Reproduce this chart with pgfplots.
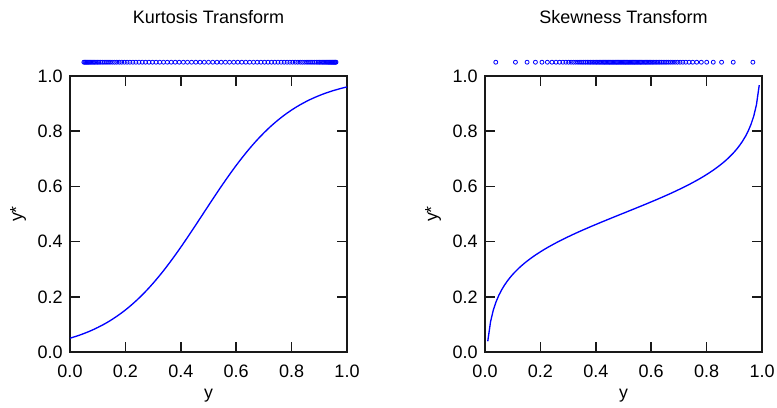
\documentclass[border=0pt]{standalone}
\usepackage{fontspec}
\setmainfont{Liberation Sans}
\usepackage{pgfplots}
\usepackage{pgfplotstable}
\pgfplotsset{compat=1.18}

% kurtosis transform, y -> y*
\pgfplotstableread{
x y
0.00 0.0501
0.01 0.0531
0.02 0.0563
0.03 0.0596
0.04 0.0631
0.05 0.0669
0.06 0.0708
0.07 0.0749
0.08 0.0793
0.09 0.0839
0.10 0.0887
0.11 0.0938
0.12 0.0991
0.13 0.1047
0.14 0.1106
0.15 0.1168
0.16 0.1233
0.17 0.1301
0.18 0.1372
0.19 0.1446
0.20 0.1523
0.21 0.1604
0.22 0.1689
0.23 0.1777
0.24 0.1868
0.25 0.1963
0.26 0.2061
0.27 0.2163
0.28 0.2269
0.29 0.2378
0.30 0.2491
0.31 0.2608
0.32 0.2728
0.33 0.2851
0.34 0.2977
0.35 0.3107
0.36 0.3240
0.37 0.3376
0.38 0.3514
0.39 0.3655
0.40 0.3798
0.41 0.3943
0.42 0.4092
0.43 0.4241
0.44 0.4390
0.45 0.4541
0.46 0.4695
0.47 0.4847
0.48 0.5000
0.49 0.5153
0.50 0.5306
0.51 0.5459
0.52 0.5610
0.53 0.5760
0.54 0.5910
0.55 0.6057
0.56 0.6202
0.57 0.6345
0.58 0.6486
0.59 0.6625
0.60 0.6761
0.61 0.6893
0.62 0.7023
0.63 0.7149
0.64 0.7273
0.65 0.7393
0.66 0.7509
0.67 0.7622
0.68 0.7732
0.69 0.7837
0.70 0.7939
0.71 0.8038
0.72 0.8133
0.73 0.8224
0.74 0.8311
0.75 0.8396
0.76 0.8477
0.77 0.8554
0.78 0.8628
0.79 0.8699
0.80 0.8767
0.81 0.8832
0.82 0.8894
0.83 0.8953
0.84 0.9009
0.85 0.9062
0.86 0.9113
0.87 0.9162
0.88 0.9207
0.89 0.9251
0.90 0.9292
0.91 0.9332
0.92 0.9369
0.93 0.9404
0.94 0.9438
0.95 0.9470
0.96 0.9499
0.97 0.9527
0.98 0.9555
0.99 0.9580
1.00 0.9604
}\kurt

% skewness transform, y -> y*
\pgfplotstableread{
x y
0.01 0.0389
0.02 0.1099
0.03 0.1519
0.04 0.1820
0.05 0.2056
0.06 0.2251
0.07 0.2417
0.08 0.2563
0.09 0.2693
0.10 0.2811
0.11 0.2918
0.12 0.3018
0.13 0.3110
0.14 0.3197
0.15 0.3278
0.16 0.3355
0.17 0.3429
0.18 0.3499
0.19 0.3565
0.20 0.3630
0.21 0.3692
0.22 0.3752
0.23 0.3810
0.24 0.3866
0.25 0.3920
0.26 0.3974
0.27 0.4025
0.28 0.4076
0.29 0.4126
0.30 0.4174
0.31 0.4222
0.32 0.4269
0.33 0.4315
0.34 0.4360
0.35 0.4405
0.36 0.4449
0.37 0.4492
0.38 0.4536
0.39 0.4578
0.40 0.4620
0.41 0.4662
0.42 0.4704
0.43 0.4745
0.44 0.4786
0.45 0.4827
0.46 0.4868
0.47 0.4909
0.48 0.4949
0.49 0.4990
0.50 0.5030
0.51 0.5070
0.52 0.5111
0.53 0.5151
0.54 0.5192
0.55 0.5233
0.56 0.5274
0.57 0.5315
0.58 0.5356
0.59 0.5398
0.60 0.5440
0.61 0.5482
0.62 0.5524
0.63 0.5568
0.64 0.5611
0.65 0.5655
0.66 0.5700
0.67 0.5745
0.68 0.5791
0.69 0.5838
0.70 0.5886
0.71 0.5934
0.72 0.5984
0.73 0.6035
0.74 0.6086
0.75 0.6140
0.76 0.6194
0.77 0.6250
0.78 0.6308
0.79 0.6368
0.80 0.6430
0.81 0.6495
0.82 0.6561
0.83 0.6631
0.84 0.6705
0.85 0.6782
0.86 0.6863
0.87 0.6950
0.88 0.7042
0.89 0.7142
0.90 0.7249
0.91 0.7367
0.92 0.7497
0.93 0.7643
0.94 0.7809
0.95 0.8004
0.96 0.8240
0.97 0.8541
0.98 0.8961
0.99 0.9671
}\skew

\pgfplotsset{
  panel/.style={
    width=207.75pt, height=207pt, scale only axis,
    xmin=0, xmax=1, ymin=0, ymax=1,
    xtick={0,0.2,...,1}, ytick={0,0.2,...,1},
    tick align=inside, major tick length=7.5pt,
    axis line style={black!90, line width=1.3pt},
    every tick/.style={black!90, line width=1.3pt},
    clip=false,
    /pgf/number format/assume math mode=true,
    tick label style={font=\fontsize{13.5}{16}\selectfont, /pgf/number format/fixed, /pgf/number format/fixed zerofill, /pgf/number format/precision=1},
    xticklabel style={yshift=-6.5pt},
    yticklabel style={xshift=-2pt},
    label style={font=\fontsize{13.3}{16}\selectfont},
    xlabel={y}, ylabel={y*},
    xlabel style={at={(axis description cs:0.5,-0.167)}, anchor=base},
    ylabel style={at={(axis description cs:-0.172,0.5)}, anchor=base, rotate=0},
    title style={at={(axis description cs:0.5,1.163)}, anchor=base, font=\fontsize{13.5}{17}\selectfont},
  },
  curve/.style={blue, line width=1pt, no markers},
  dots/.style={only marks, mark=o, mark size=1.5pt, blue, mark options={line width=0.6pt}},
}

\begin{document}
\begin{tikzpicture}
\useasboundingbox (0,0) rectangle (582.75pt,-305.25pt);
\begin{axis}[panel, at={(52.5pt,-264pt)}, anchor=south west, title={Kurtosis Transform}]
\addplot[curve] table[x=x, y=y] {\kurt};
\addplot[dots] table[x=y, y expr=1.05] {\kurt};
\end{axis}
\begin{axis}[panel, at={(363.75pt,-264pt)}, anchor=south west, title={Skewness Transform}]
\addplot[curve] table[x=x, y=y] {\skew};
\addplot[dots] table[x=y, y expr=1.05] {\skew};
\end{axis}
\end{tikzpicture}
\end{document}
